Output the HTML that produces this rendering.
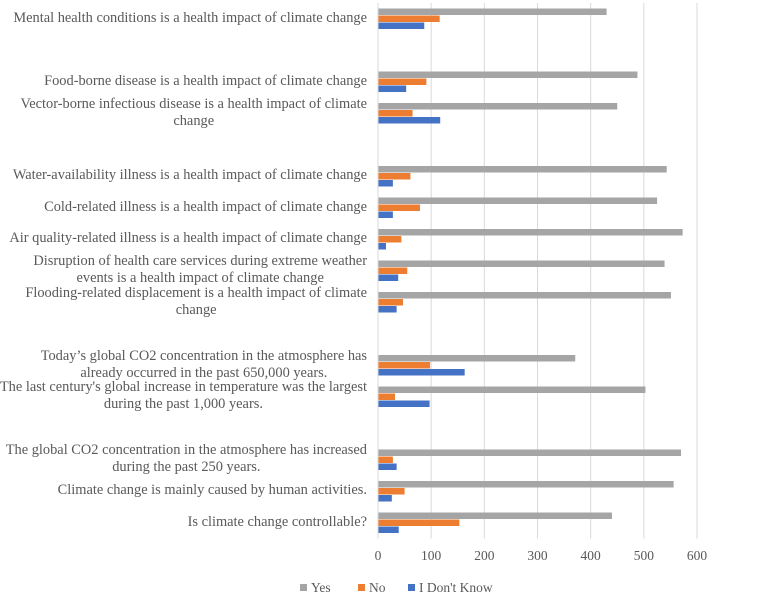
<!DOCTYPE html>
<html><head><meta charset="utf-8"><style>
body{margin:0;background:#fff;width:765px;height:595px;overflow:hidden;font-family:"Liberation Serif",serif;}
svg{position:absolute;left:0;top:0}
.lbl{position:absolute;right:398px;width:380px;text-align:right;font-size:14.4px;color:#595959;line-height:17px;white-space:nowrap}
.lbl span{display:inline-block;text-align:center}
</style></head><body>
<svg id="c" width="765" height="595"></svg>
<div id="labels"></div>
<script>
const categories=["Mental health conditions is a health impact of climate change","","Food-borne disease is a health impact of climate change","Vector-borne infectious disease is a health impact of climate change","","Water-availability illness is a health impact of climate change","Cold-related illness is a health impact of climate change","Air quality-related illness is a health impact of climate change","Disruption of health care services during extreme weather events is a health impact of climate change","Flooding-related displacement is a health impact of climate change","","Today’s global CO2 concentration in the atmosphere has already occurred in the past 650,000 years.","The last century's global increase in temperature was the largest during the past 1,000 years.","","The global CO2 concentration in the atmosphere has increased during the past 250 years.","Climate change is mainly caused by human activities.","Is climate change controllable?"];
const yesVals=[430,null,488,450,null,543,525,573,539,551,null,371,503,null,570,556,440];
const noVals=[116,null,91,65,null,61,79,44,55,47,null,98,32,null,28,50,153];
const idkVals=[87,null,53,117,null,28,28,15,38,35,null,163,97,null,35,26,39];
const ticks=[0,100,200,300,400,500,600];
const wraps={3:["Vector-borne infectious disease is a health impact of climate","change"],8:["Disruption of health care services during extreme weather","events is a health impact of climate change"],9:["Flooding-related displacement is a health impact of climate","change"],11:["Today’s global CO2 concentration in the atmosphere has","already occurred in the past 650,000 years."],12:["The last century's global increase in temperature was the largest","during the past 1,000 years."],14:["The global CO2 concentration in the atmosphere has increased","during the past 250 years."]};
const NS="http://www.w3.org/2000/svg",svg=document.getElementById('c');
const x0=378,x1=697,plotTop=3,slot=31.5;
const X=v=>x0+(v/600)*(x1-x0);
const Y=i=>plotTop+slot*(i+0.5);
function el(t,a,p){const e=document.createElementNS(NS,t);for(const k in a)e.setAttribute(k,a[k]);(p||svg).appendChild(e);return e;}
ticks.forEach(t=>{
 const g=el('line',{x1:X(t),x2:X(t),y1:plotTop,y2:plotTop+slot*categories.length,stroke:'#d9d9d9','stroke-width':1});
 
 
 const tx=el('text',{x:X(t),y:560,'text-anchor':'middle','font-size':13.5,fill:'#595959','font-family':'Liberation Serif'});
 tx.textContent=t;
 
 
});
const series=[[yesVals,'#a5a5a5',-7,'yes'],[noVals,'#ed7d31',0,'no'],[idkVals,'#4472c4',7,'idk']];
const L=document.getElementById('labels');
categories.forEach((c,i)=>{
 series.forEach(([arr,col,off,n])=>{
  if(arr[i]==null)return;
  const r=el('rect',{x:x0,y:Y(i)+off-3.25,width:X(arr[i])-x0,height:6.5,fill:col});
  
  
 });
 if(!c)return;
 const d=document.createElement('div');d.className='lbl';
 const lines=wraps[i]||[c];
 d.style.top=(Y(i)-8.5*lines.length-0.5)+'px';
 d.innerHTML='<span>'+lines.join('<br>')+'</span>';
 
 
 L.appendChild(d);
});
const ax=el('line',{x1:x0,x2:x0,y1:plotTop,y2:plotTop+slot*categories.length,stroke:'#d9d9d9'});


const leg=[['Yes','#a5a5a5',300],['No','#ed7d31',358],["I Don't Know",'#4472c4',408]];
leg.forEach(([t,c,x])=>{
 const g=el('g',{});
 
 
 el('rect',{x:x,y:584,width:7,height:7,fill:c},g);
 const tx=el('text',{x:x+11,y:592,'font-size':13.5,fill:'#595959','font-family':'Liberation Serif'},g);
 tx.textContent=t;
});
</script>
</body></html>
